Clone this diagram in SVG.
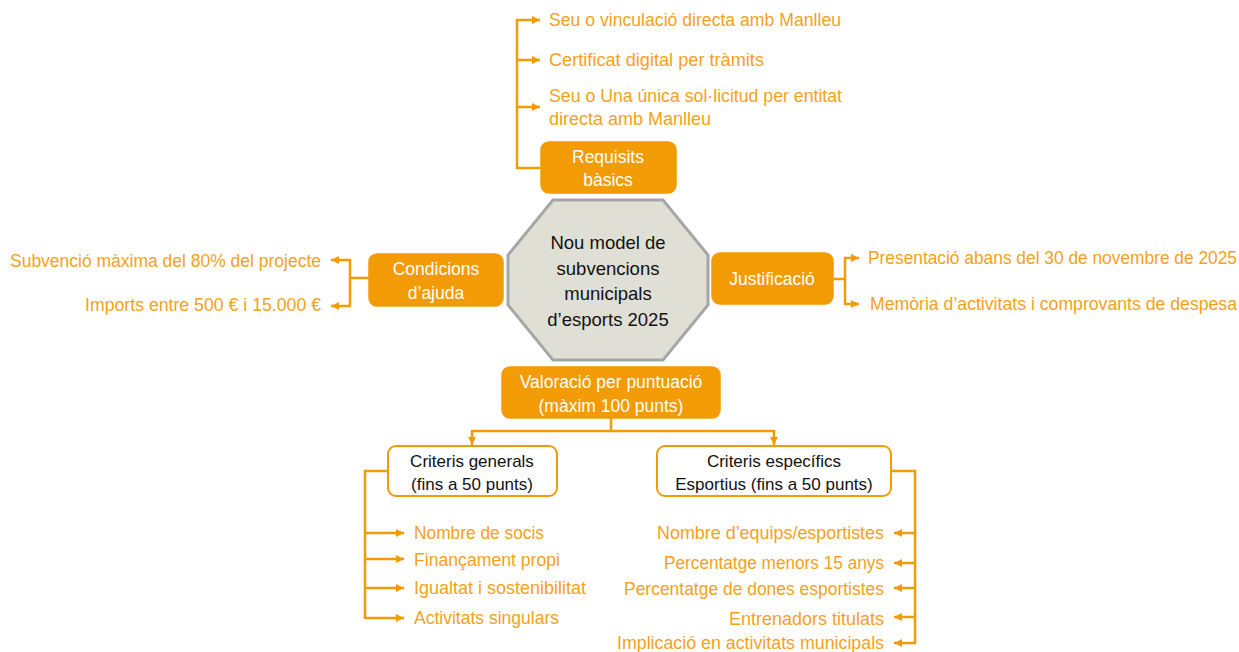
<svg xmlns="http://www.w3.org/2000/svg" width="1239" height="652" viewBox="0 0 1239 652">
<defs>
<style>
.t{font-family:"Liberation Sans",Arial,sans-serif;font-size:17.5px;fill:#F5A11C}
.w{font-family:"Liberation Sans",Arial,sans-serif;font-size:17.5px;fill:#FFFFFF;text-anchor:middle}
.k{font-family:"Liberation Sans",Arial,sans-serif;font-size:17px;fill:#111111;text-anchor:middle}
.c{font-family:"Liberation Sans",Arial,sans-serif;font-size:18.5px;fill:#111111;text-anchor:middle}
.r{text-anchor:end}
.box{fill:#F29B05;stroke:#F29B05;stroke-width:1.5}
.wbox{fill:#FFFFFF;stroke:#F29B05;stroke-width:2}
.ln{fill:none;stroke:#F29B05;stroke-width:2.5}
</style>
<marker id="ah" viewBox="0 0 10 10" refX="10" refY="5" markerWidth="9" markerHeight="8" markerUnits="userSpaceOnUse" orient="auto">
<path d="M0,0 L10,5 L0,10 Z" fill="#F29B05"/>
</marker>
</defs>
<rect width="1239" height="652" fill="#FFFFFF"/>

<g id="connectors">
<path class="ln" d="M541,168 H517 V20 H540" marker-end="url(#ah)"/>
<path class="ln" d="M517,60 H540" marker-end="url(#ah)"/>
<path class="ln" d="M517,107 H540" marker-end="url(#ah)"/>
<path class="ln" d="M369,278 H350 V260 H331" marker-end="url(#ah)"/>
<path class="ln" d="M350,278 V306 H331" marker-end="url(#ah)"/>
<path class="ln" d="M833,279 H845 V258 H859" marker-end="url(#ah)"/>
<path class="ln" d="M845,279 V304 H859" marker-end="url(#ah)"/>
<path class="ln" d="M611,418 V431 H472 V445" marker-end="url(#ah)"/>
<path class="ln" d="M611,431 H774 V445" marker-end="url(#ah)"/>
<path class="ln" d="M388,471 H365 V618 H404" marker-end="url(#ah)"/>
<path class="ln" d="M365,533 H404" marker-end="url(#ah)"/>
<path class="ln" d="M365,559 H404" marker-end="url(#ah)"/>
<path class="ln" d="M365,588 H404" marker-end="url(#ah)"/>
<path class="ln" d="M891,471 H915 V643 H894" marker-end="url(#ah)"/>
<path class="ln" d="M915,533 H894" marker-end="url(#ah)"/>
<path class="ln" d="M915,563 H894" marker-end="url(#ah)"/>
<path class="ln" d="M915,588 H894" marker-end="url(#ah)"/>
<path class="ln" d="M915,617 H894" marker-end="url(#ah)"/>
</g>

<g id="central">
<polygon points="553,200 663,200 708,255 708,305 663,360 553,360 508,305 508,255" fill="#E0DFD5" stroke="#A6A6A6" stroke-width="3"/>
<text class="c" x="608" y="249">Nou model de</text>
<text class="c" x="608" y="275">subvencions</text>
<text class="c" x="608" y="300">municipals</text>
<text class="c" x="608" y="326">d’esports 2025</text>
</g>

<g id="requisits">
<rect class="box" x="541" y="142" width="135" height="51" rx="8"/>
<text class="w" x="608" y="163">Requisits</text>
<text class="w" x="608" y="186">bàsics</text>
</g>
<g id="requisits-items">
<text class="t" x="549" y="26" textLength="292" lengthAdjust="spacingAndGlyphs">Seu o vinculació directa amb Manlleu</text>
<text class="t" x="549" y="66" textLength="215" lengthAdjust="spacingAndGlyphs">Certificat digital per tràmits</text>
<text class="t" x="549" y="102" textLength="293" lengthAdjust="spacingAndGlyphs">Seu o Una única sol·licitud per entitat</text>
<text class="t" x="549" y="125" textLength="162" lengthAdjust="spacingAndGlyphs">directa amb Manlleu</text>
</g>

<g id="condicions">
<rect class="box" x="369" y="254" width="134" height="52" rx="8"/>
<text class="w" x="436" y="275">Condicions</text>
<text class="w" x="436" y="299">d’ajuda</text>
</g>
<g id="condicions-items">
<text class="t" x="10" y="267" textLength="311" lengthAdjust="spacingAndGlyphs">Subvenció màxima del 80% del projecte</text>
<text class="t" x="85" y="311" textLength="236" lengthAdjust="spacingAndGlyphs">Imports entre 500 € i 15.000 €</text>
</g>

<g id="justificacio">
<rect class="box" x="712" y="253" width="121" height="51" rx="8"/>
<text class="w" x="772" y="285">Justificació</text>
</g>
<g id="justificacio-items">
<text class="t" x="868" y="264" textLength="369" lengthAdjust="spacingAndGlyphs">Presentació abans del 30 de novembre de 2025</text>
<text class="t" x="870" y="310" textLength="367" lengthAdjust="spacingAndGlyphs">Memòria d’activitats i comprovants de despesa</text>
</g>

<g id="valoracio">
<rect class="box" x="502" y="367" width="218" height="51" rx="8"/>
<text class="w" x="611" y="388">Valoració per puntuació</text>
<text class="w" x="611" y="412">(màxim 100 punts)</text>
</g>

<g id="criteris-generals">
<rect class="wbox" x="388" y="446" width="169" height="50" rx="8"/>
<text class="k" x="472" y="467">Criteris generals</text>
<text class="k" x="472" y="490">(fins a 50 punts)</text>
</g>
<g id="criteris-generals-items">
<text class="t" x="414" y="539" textLength="130" lengthAdjust="spacingAndGlyphs">Nombre de socis</text>
<text class="t" x="414" y="566" textLength="146" lengthAdjust="spacingAndGlyphs">Finançament propi</text>
<text class="t" x="414" y="594" textLength="172" lengthAdjust="spacingAndGlyphs">Igualtat i sostenibilitat</text>
<text class="t" x="414" y="624" textLength="145" lengthAdjust="spacingAndGlyphs">Activitats singulars</text>
</g>

<g id="criteris-especifics">
<rect class="wbox" x="657" y="446" width="234" height="50" rx="8"/>
<text class="k" x="774" y="467">Criteris específics</text>
<text class="k" x="774" y="490">Esportius (fins a 50 punts)</text>
</g>
<g id="criteris-especifics-items">
<text class="t" x="657" y="539" textLength="227" lengthAdjust="spacingAndGlyphs">Nombre d’equips/esportistes</text>
<text class="t" x="664" y="569" textLength="220" lengthAdjust="spacingAndGlyphs">Percentatge menors 15 anys</text>
<text class="t" x="624" y="595" textLength="260" lengthAdjust="spacingAndGlyphs">Percentatge de dones esportistes</text>
<text class="t" x="729" y="625" textLength="155" lengthAdjust="spacingAndGlyphs">Entrenadors titulats</text>
<text class="t" x="617" y="649" textLength="267" lengthAdjust="spacingAndGlyphs">Implicació en activitats municipals</text>
</g>
</svg>
